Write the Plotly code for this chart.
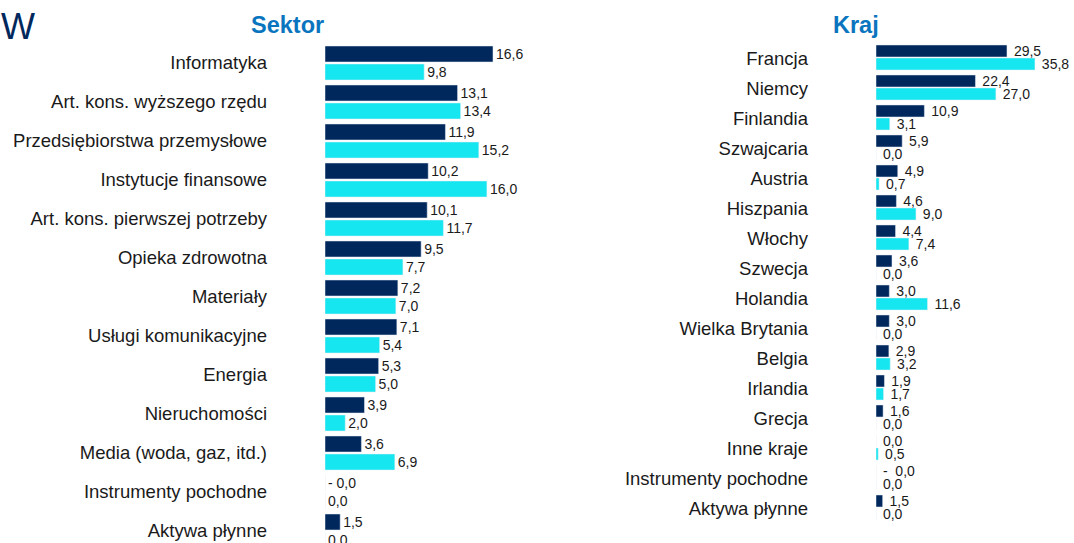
import plotly.graph_objects as go

# ---- data ----
sector_cats = ["Informatyka", "Art. kons. wyższego rzędu", "Przedsiębiorstwa przemysłowe",
               "Instytucje finansowe", "Art. kons. pierwszej potrzeby", "Opieka zdrowotna",
               "Materiały", "Usługi komunikacyjne", "Energia", "Nieruchomości",
               "Media (woda, gaz, itd.)", "Instrumenty pochodne", "Aktywa płynne"]
sector_fund = [16.6, 13.1, 11.9, 10.2, 10.1, 9.5, 7.2, 7.1, 5.3, 3.9, 3.6, -0.0, 1.5]
sector_index = [9.8, 13.4, 15.2, 16.0, 11.7, 7.7, 7.0, 5.4, 5.0, 2.0, 6.9, 0.0, 0.0]
sector_fund_txt = ["16,6", "13,1", "11,9", "10,2", "10,1", "9,5", "7,2", "7,1", "5,3", "3,9", "3,6", "- 0,0", "1,5"]
sector_index_txt = ["9,8", "13,4", "15,2", "16,0", "11,7", "7,7", "7,0", "5,4", "5,0", "2,0", "6,9", "0,0", "0,0"]

country_cats = ["Francja", "Niemcy", "Finlandia", "Szwajcaria", "Austria", "Hiszpania", "Włochy",
                "Szwecja", "Holandia", "Wielka Brytania", "Belgia", "Irlandia", "Grecja",
                "Inne kraje", "Instrumenty pochodne", "Aktywa płynne"]
country_fund = [29.5, 22.4, 10.9, 5.9, 4.9, 4.6, 4.4, 3.6, 3.0, 3.0, 2.9, 1.9, 1.6, 0.0, -0.0, 1.5]
country_index = [35.8, 27.0, 3.1, 0.0, 0.7, 9.0, 7.4, 0.0, 11.6, 0.0, 3.2, 1.7, 0.0, 0.5, 0.0, 0.0]
country_fund_txt = ["29,5", "22,4", "10,9", "5,9", "4,9", "4,6", "4,4", "3,6", "3,0", "3,0", "2,9", "1,9", "1,6", "0,0", "-  0,0", "1,5"]
country_index_txt = ["35,8", "27,0", "3,1", "0,0", "0,7", "9,0", "7,4", "0,0", "11,6", "0,0", "3,2", "1,7", "0,0", "0,5", "0,0", "0,0"]

NAVY = "#00285C"
CYAN = "#16E6EF"
FONT = "Liberation Sans, Arial, sans-serif"
TXT = dict(family=FONT, size=14, color="#1a1a1a")

W, H = 1074, 543
fig = go.Figure()

def add_pair(cats, fund, idx, ftxt, itxt, xa, ya, width, off1, off2, pad=""):
    fig.add_trace(go.Bar(y=cats, x=fund, orientation="h", marker_color=NAVY,
                         width=width, offset=off1, text=[pad + t for t in ftxt],
                         textposition="outside", constraintext="none", textfont=TXT,
                         cliponaxis=False, xaxis=xa, yaxis=ya, showlegend=False,
                         hoverinfo="x+y"))
    fig.add_trace(go.Bar(y=cats, x=idx, orientation="h", marker_color=CYAN,
                         width=width, offset=off2, text=[pad + t for t in itxt],
                         textposition="outside", constraintext="none", textfont=TXT,
                         cliponaxis=False, xaxis=xa, yaxis=ya, showlegend=False,
                         hoverinfo="x+y"))

add_pair(sector_cats, sector_fund, sector_index, sector_fund_txt, sector_index_txt,
         "x", "y", 0.41, -0.436, 0.026)
add_pair(country_cats, country_fund, country_index, country_fund_txt, country_index_txt,
         "x2", "y2", 0.40, -0.467, -0.033, pad="\u00a0")

l_top, l_step = 63, 39
r_top, r_step = 59, 30
lx0 = 325
rx0 = 876

fig.update_layout(
    width=W, height=H, margin=dict(l=0, r=0, t=0, b=0),
    paper_bgcolor="white", plot_bgcolor="white",
    barmode="overlay",
    font=dict(family=FONT, color="#1a1a1a"),
    xaxis=dict(domain=[lx0 / W, (lx0 + 202) / W], range=[0, 202 / 10.12], visible=False, fixedrange=True),
    yaxis=dict(domain=[0, 1], anchor="x", type="category",
               range=[(H - l_top) / l_step, -l_top / l_step],
               showgrid=False, zeroline=False, showline=False, ticks="",
               ticklabelstandoff=57, tickfont=dict(size=18.5, color="#1a1a1a")),
    xaxis2=dict(domain=[rx0 / W, (rx0 + 190) / W], range=[0, 190 / 4.44], visible=False, fixedrange=True),
    yaxis2=dict(domain=[0, 1], anchor="x2", type="category",
                range=[(H - r_top) / r_step, -r_top / r_step],
                showgrid=False, zeroline=False, showline=False, ticks="",
                ticklabelstandoff=67, tickfont=dict(size=18.5, color="#1a1a1a")),
    annotations=[
        dict(text="<b>Sektor</b>", x=287.5 / W, y=1 - 25 / H, xref="paper", yref="paper",
             showarrow=False, font=dict(size=23.5, color="#0A75BE"), xanchor="center", yanchor="middle"),
        dict(text="<b>Kraj</b>", x=855.5 / W, y=1 - 25 / H, xref="paper", yref="paper",
             showarrow=False, font=dict(size=23.5, color="#0A75BE"), xanchor="center", yanchor="middle"),
        dict(text="W", x=-1 / W, y=1 - 27 / H, xref="paper", yref="paper",
             showarrow=False, font=dict(size=36, color=NAVY), xanchor="left", yanchor="middle"),
    ],
)

fig.write_html("out.html", config={"displayModeBar": False},
               post_script="document.body.style.margin='0';")
